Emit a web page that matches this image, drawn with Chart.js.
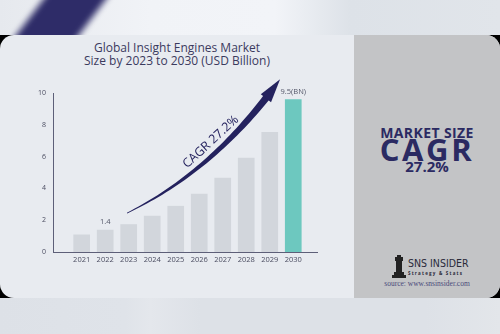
<!DOCTYPE html>
<html>
<head>
<meta charset="utf-8">
<script src="https://cdn.jsdelivr.net/npm/chart.js@4.4.1/dist/chart.umd.min.js"></script>
<style>
  html, body { margin: 0; padding: 0; }
  body { width: 500px; height: 334px; position: relative; overflow: hidden;
         background: #dde1e7; font-family: "Open Sans", "DejaVu Sans", sans-serif; }
  .top-strip { position: absolute; left: 0; top: 0; width: 500px; height: 36px; overflow: hidden;
               background: linear-gradient(90deg, #e6e9ee 0%, #f1f3f7 30%, #f2f4f8 55%, #dde2e8 70%, #e1e5ea 100%); }
  .stripe { position: absolute; left: 34px; top: -40px; width: 50px; height: 120px; background: #2e2c68;
            transform: rotate(37deg); filter: blur(3px); }
  .bottom-strip { position: absolute; left: 0; top: 297px; width: 500px; height: 37px;
                  background: linear-gradient(90deg, #dde1e7 0%, #dfe3e9 25%, #e4e7ec 30%, #dde1e7 40%, #dde1e7 85%, #e3e6ea 100%); }
  .band { position: absolute; left: 0; top: 35px; width: 500px; height: 263px; background: #000; }
  .card { position: absolute; left: 0; top: 35px; width: 500px; height: 263px; border-radius: 14px;
          overflow: hidden; background: #e8ebf0; }
  .side { position: absolute; left: 354px; top: 0; width: 146px; height: 263px; background: #c3c4c6; }
  .title { position: absolute; left: 27px; top: 6px; width: 300px; text-align: center; color: #3b3a5e;
           font-size: 12px; line-height: 13px; font-weight: 500; }
  .ms { position: absolute; left: 0; width: 146px; text-align: center; color: #2b2a62; font-family: "Open Sans", sans-serif; }
  .logo { position: absolute; left: 38px; top: 220px; }
  .src { position: absolute; left: 0; top: 244px; width: 146px; text-align: center;
         font-family: "Liberation Serif", serif; font-size: 7.5px; color: #4a4a7a; }
  #wrap { position: absolute; left: 0; top: 0; width: 350px; height: 300px; }
</style>
</head>
<body>
<div class="top-strip"><div class="stripe"></div></div>
<div class="bottom-strip"></div>
<div class="band"></div>
<div class="card">
  <div class="title">Global Insight Engines Market<br>Size by 2023 to 2030 (USD Billion)</div>
  <div class="side">
    <div class="ms" style="top:88px;font-size:14px;font-weight:700;letter-spacing:0.4px;">MARKET SIZE</div>
    <div class="ms" style="top:93px;font-size:31px;font-weight:700;letter-spacing:2.6px;">CAGR</div>
    <div class="ms" style="top:121px;font-size:15px;font-weight:700;">27.2%</div>
    <div class="logo">
      <svg width="14" height="24" viewBox="0 0 14 24">
        <rect x="5" y="0" width="4" height="2" fill="#222"/>
        <rect x="3" y="2" width="8" height="4" fill="#222"/>
        <rect x="4" y="6" width="6" height="11" fill="#222"/>
        <rect x="2" y="17" width="10" height="3" fill="#222"/>
        <rect x="0" y="20" width="14" height="3" fill="#222"/>
      </svg>
      <div style="position:absolute;left:16px;top:2px;font-size:10.5px;color:#2a2a3a;white-space:nowrap;font-family:'DejaVu Sans Condensed','DejaVu Sans',sans-serif;">SNS INSIDER</div>
      <div style="position:absolute;left:16px;top:15px;font-size:4.5px;color:#2a2a3a;white-space:nowrap;letter-spacing:1.2px;font-weight:700;">Strategy &amp; Stats</div>
    </div>
    <div class="src">source: www.snsinsider.com</div>
  </div>
</div>
<div id="wrap"><canvas id="chart"></canvas></div>
<script>
const years = [2021, 2022, 2023, 2024, 2025, 2026, 2027, 2028, 2029, 2030];
const marketSize = [1.1, 1.4, 1.75, 2.28, 2.9, 3.66, 4.67, 5.92, 7.55, 9.6];
const barLabels = ['', '1.4', '', '', '', '', '', '', '', '9.5(BN)'];
const barColors = ['#d2d6dc', '#d2d6dc', '#d2d6dc', '#d2d6dc', '#d2d6dc', '#d2d6dc', '#d2d6dc', '#d2d6dc', '#d2d6dc', '#6dc8bf'];
const yTicks = [0, 2, 4, 6, 8, 10];
const cagrText = 'CAGR 27.2%';
// arrow path in data space: start, control, tip
const arrowPath = [[2022.93, 2.45], [2026.67, 5.15], [2029.44, 10.86]];

const navy = '#24225e';

const barLabelPlugin = {
    id: 'barLabels',
    afterDatasetsDraw(chart) {
        const ctx = chart.ctx;
        const meta = chart.getDatasetMeta(0);
        ctx.save();
        ctx.font = '7.5px "Open Sans", sans-serif';
        ctx.fillStyle = '#55586a';
        ctx.textAlign = 'center';
        ctx.textBaseline = 'bottom';
        meta.data.forEach((bar, i) => {
            if (barLabels[i]) ctx.fillText(barLabels[i], bar.x, bar.y - 4);
        });
        ctx.restore();
    }
};

const arrowPlugin = {
    id: 'cagrArrow',
    afterDraw(chart) {
        const ctx = chart.ctx;
        const xs = chart.scales.x, ys = chart.scales.y;
        const p = arrowPath.map(a => [xs.getPixelForValue(a[0]), ys.getPixelForValue(a[1])]);
        const pt = t => [
            (1 - t) * (1 - t) * p[0][0] + 2 * (1 - t) * t * p[1][0] + t * t * p[2][0],
            (1 - t) * (1 - t) * p[0][1] + 2 * (1 - t) * t * p[1][1] + t * t * p[2][1]
        ];
        const tan = t => {
            const dx = 2 * (1 - t) * (p[1][0] - p[0][0]) + 2 * t * (p[2][0] - p[1][0]);
            const dy = 2 * (1 - t) * (p[1][1] - p[0][1]) + 2 * t * (p[2][1] - p[1][1]);
            const l = Math.hypot(dx, dy);
            return [dx / l, dy / l];
        };
        const tEnd = 0.9;
        const left = [], right = [];
        for (let i = 0; i <= 40; i++) {
            const t = tEnd * i / 40;
            const [x, y] = pt(t);
            const [tx, ty] = tan(t);
            const w = 0.4 + 3.2 * (t / tEnd);
            left.push([x - ty * w, y + tx * w]);
            right.push([x + ty * w, y - tx * w]);
        }
        ctx.save();
        ctx.fillStyle = navy;
        ctx.beginPath();
        left.forEach((q, i) => i ? ctx.lineTo(q[0], q[1]) : ctx.moveTo(q[0], q[1]));
        right.reverse().forEach(q => ctx.lineTo(q[0], q[1]));
        ctx.closePath();
        ctx.fill();
        // head
        const [bx, by] = pt(tEnd);
        const [tx, ty] = tan(tEnd);
        const tip = p[2];
        const hw = 6.5;
        ctx.beginPath();
        ctx.moveTo(tip[0], tip[1]);
        ctx.lineTo(bx - ty * hw - tx * 1.5, by + tx * hw - ty * 1.5);
        ctx.lineTo(bx + ty * hw - tx * 1.5, by - tx * hw - ty * 1.5);
        ctx.closePath();
        ctx.fill();
        // label
        const [mx, my] = pt(0.56);
        const [ux, uy] = tan(0.56);
        ctx.translate(mx + uy * 11, my - ux * 11);
        ctx.rotate(Math.atan2(uy, ux));
        ctx.font = '500 12.5px "Open Sans", sans-serif';
        ctx.textAlign = 'center';
        ctx.textBaseline = 'middle';
        ctx.fillText(cagrText, 0, 0);
        ctx.restore();
    }
};

new Chart(document.getElementById('chart'), {
    type: 'bar',
    data: {
        datasets: [{
            data: years.map((y, i) => ({ x: y, y: marketSize[i] })),
            backgroundColor: barColors,
            barPercentage: 0.71,
            categoryPercentage: 1
        }]
    },
    options: {
        responsive: true, maintainAspectRatio: false,
        animation: false,
        layout: { padding: { left: 33, right: 33, top: 93, bottom: 28 } },
        plugins: { legend: { display: false }, tooltip: { enabled: false } },
        scales: {
            x: {
                type: 'linear', min: 2019.78, max: 2031.01, offset: false,
                afterBuildTicks: s => { s.ticks = years.map(v => ({ value: v })); },
                afterFit: s => { s.height = 20; },
                ticks: { callback: v => String(v), font: { size: 7.5, family: '"Open Sans", sans-serif' }, color: '#4a4c60', padding: 3, maxRotation: 0, autoSkip: false },
                grid: { display: false, drawTicks: false },
                border: { color: '#5d5f78', width: 1 }
            },
            y: {
                min: 0, max: 10,
                afterBuildTicks: s => { s.ticks = yTicks.map(v => ({ value: v })); },
                afterFit: s => { s.width = 20; },
                ticks: { font: { size: 7, family: '"Open Sans", sans-serif' }, color: '#4a4c60', padding: 7 },
                grid: { display: false, drawTicks: false },
                border: { color: '#5d5f78', width: 1 }
            }
        }
    },
    plugins: [barLabelPlugin, arrowPlugin]
});
</script>
</body>
</html>
